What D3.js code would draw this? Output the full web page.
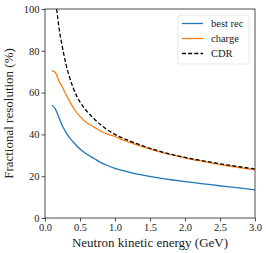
<!DOCTYPE html>
<html>
<head>
<meta charset="utf-8">
<script src="https://cdn.jsdelivr.net/npm/d3@7"></script>
<style>
body { margin: 0; background: #fff; }
svg text { font-family: 'Liberation Serif', 'DejaVu Serif', 'Times New Roman', serif !important; fill: #222; }
</style>
</head>
<body>
<div id="chart"></div>
<script>
var fw = 266;
var fh = 253;
var mar = { top: 9, right: 11, bottom: 35, left: 45 };
var w = fw - mar.left - mar.right;
var h = fh - mar.top - mar.bottom;

// data
var bestE = [0.1, 0.15, 0.2, 0.25, 0.3, 0.35, 0.4, 0.5, 0.6, 0.7, 0.8, 0.9, 1.0, 1.2, 1.4, 1.6, 1.8, 2.0, 2.2, 2.4, 2.6, 2.8, 3.0];
var bestRes = [54, 52, 48, 44, 41, 38.5, 36.5, 33, 30.5, 28.5, 26.5, 25, 23.8, 22, 20.5, 19.3, 18.3, 17.4, 16.6, 15.8, 15, 14.3, 13.5];

var chargeE = [0.1, 0.15, 0.2, 0.25, 0.3, 0.35, 0.4, 0.5, 0.6, 0.7, 0.8, 0.9, 1.0, 1.1, 1.2, 1.4, 1.6, 1.8, 2.0, 2.2, 2.4, 2.6, 2.8, 3.0];
var chargeRes = [70.5, 69.5, 65.5, 62.5, 59, 56, 53, 48.5, 45.5, 43.5, 41.5, 40, 39, 37.5, 36.3, 34, 32, 30.3, 28.8, 27.4, 26.2, 25, 24, 23];

var cdrE = [0.167, 0.2, 0.25, 0.3, 0.35, 0.4, 0.5, 0.6, 0.7, 0.8, 0.9, 1.0, 1.2, 1.4, 1.6, 1.8, 2.0, 2.2, 2.4, 2.6, 2.8, 3.0];
var cdrRes = [100, 91, 81.5, 73.5, 67.5, 62.5, 55.5, 51, 47.5, 44.5, 42, 40, 37, 34.5, 32.3, 30.5, 29, 27.7, 26.5, 25.4, 24.4, 23.5];

var xTicks = [0, 0.5, 1.0, 1.5, 2.0, 2.5, 3.0];
var yTicks = [0, 20, 40, 60, 80, 100];

var legendNames = ["best rec", "charge", "CDR"];
var legendColors = ["#1f77b4", "#ff7f0e", "#000"];
var legendDash = [null, null, "4,2.2"];

var font = "'Liberation Serif', 'DejaVu Serif', serif";

var svg = d3.select("#chart")
	.append("svg")
	.attr("width", fw)
	.attr("height", fh)
	.attr("font-family", font);

var g = svg.append("g")
	.attr("transform", "translate(" + mar.left + "," + mar.top + ")");

var x = d3.scaleLinear().domain([0, 3]).range([0, w]);
var y = d3.scaleLinear().domain([0, 100]).range([h, 0]);

var xA = d3.axisBottom(x).tickValues(xTicks).tickSize(3.5).tickPadding(2)
	.tickFormat(d3.format(".1f"));
var yA = d3.axisLeft(y).tickValues(yTicks).tickSize(3.5).tickPadding(2);

svg.append("clipPath").attr("id", "clip")
	.append("rect").attr("width", w).attr("height", h);

var series = [
	{ e: bestE, r: bestRes, color: legendColors[0], dash: legendDash[0] },
	{ e: chargeE, r: chargeRes, color: legendColors[1], dash: legendDash[1] },
	{ e: cdrE, r: cdrRes, color: legendColors[2], dash: legendDash[2] }
];

var line = d3.line().curve(d3.curveMonotoneX)
	.x(function(d) { return x(d[0]); })
	.y(function(d) { return y(d[1]); });

var lines = g.append("g").attr("clip-path", "url(#clip)");
series.forEach(function(s) {
	lines.append("path")
		.datum(d3.zip(s.e, s.r))
		.attr("d", line)
		.attr("fill", "none")
		.attr("stroke", s.color)
		.attr("stroke-width", 1.3)
		.attr("stroke-dasharray", s.dash);
});

// frame
g.append("rect")
	.attr("width", w)
	.attr("height", h)
	.attr("fill", "none")
	.attr("stroke", "#222")
	.attr("stroke-width", 0.8);

var gx = g.append("g")
	.attr("transform", "translate(0," + h + ")")
	.call(xA);
var gy = g.append("g").call(yA);

[gx, gy].forEach(function(a) {
	a.attr("font-family", font);
	a.select(".domain").remove();
	a.selectAll("line").attr("stroke", "#222").attr("stroke-width", 0.8);
	a.selectAll("text").style("font-size", "10.5px").style("font-family", font).attr("fill", "#222");
});

g.append("text")
	.attr("x", w / 2)
	.attr("y", h + 29)
	.style("text-anchor", "middle")
	.style("font-size", "13px")
	.style("font-family", font)
	.text("Neutron kinetic energy (GeV)");

g.append("text")
	.attr("transform", "translate(" + (-32) + "," + (h / 2) + ") rotate(-90)")
	.style("text-anchor", "middle")
	.style("font-size", "13px")
	.style("font-family", font)
	.text("Fractional resolution (%)");

// legend
var leg = g.append("g").attr("transform", "translate(" + (w - 77) + ",6)");
leg.append("rect")
	.attr("width", 71)
	.attr("height", 49)
	.attr("rx", 2)
	.attr("fill", "#fff")
	.attr("fill-opacity", 0.8)
	.attr("stroke", "#ddd")
	.attr("stroke-width", 0.8);

legendNames.forEach(function(n, i) {
	var ly = 8.5 + i * 15;
	leg.append("line")
		.attr("x1", 4).attr("x2", 25)
		.attr("y1", ly).attr("y2", ly)
		.attr("stroke", legendColors[i])
		.attr("stroke-width", 1.3)
		.attr("stroke-dasharray", legendDash[i]);
	leg.append("text")
		.attr("x", 33)
		.attr("y", ly)
		.attr("dy", "0.35em")
		.style("font-size", "10.5px")
		.style("font-family", font)
		.text(n);
});
</script>
</body>
</html>
